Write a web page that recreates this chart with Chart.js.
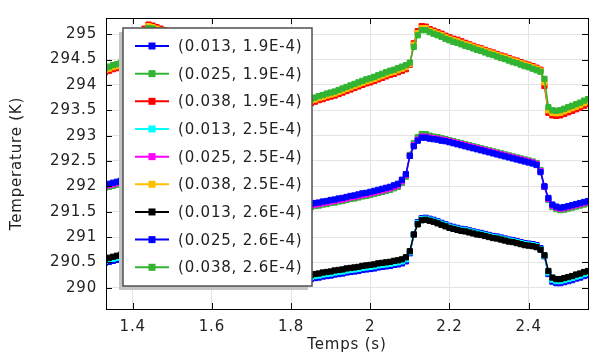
<!DOCTYPE html>
<html>
<head>
<meta charset="utf-8">
<script src="https://cdn.jsdelivr.net/npm/chart.js@4.4.0/dist/chart.umd.min.js"></script>
<style>
  html, body { margin: 0; padding: 0; background: #fff; }
  canvas { display: block; }
</style>
</head>
<body>
<canvas id="tempChart" width="593" height="356"></canvas>
<script>
// time axis (s), one sample every 0.01 s
const times = [
  1.33, 1.34, 1.35, 1.36, 1.37, 1.38, 1.39, 1.40, 1.41, 1.42,
  1.43, 1.44, 1.45, 1.46, 1.47, 1.48, 1.49, 1.50, 1.51, 1.52,
  1.53, 1.54, 1.55, 1.56, 1.57, 1.58, 1.59, 1.60, 1.61, 1.62,
  1.63, 1.64, 1.65, 1.66, 1.67, 1.68, 1.69, 1.70, 1.71, 1.72,
  1.73, 1.74, 1.75, 1.76, 1.77, 1.78, 1.79, 1.80, 1.81, 1.82,
  1.83, 1.84, 1.85, 1.86, 1.87, 1.88, 1.89, 1.90, 1.91, 1.92,
  1.93, 1.94, 1.95, 1.96, 1.97, 1.98, 1.99, 2.00, 2.01, 2.02,
  2.03, 2.04, 2.05, 2.06, 2.07, 2.08, 2.09, 2.10, 2.11, 2.12,
  2.13, 2.14, 2.15, 2.16, 2.17, 2.18, 2.19, 2.20, 2.21, 2.22,
  2.23, 2.24, 2.25, 2.26, 2.27, 2.28, 2.29, 2.30, 2.31, 2.32,
  2.33, 2.34, 2.35, 2.36, 2.37, 2.38, 2.39, 2.40, 2.41, 2.42,
  2.43, 2.44, 2.45, 2.46, 2.47, 2.48, 2.49, 2.50, 2.51, 2.52,
  2.53, 2.54, 2.55
];

// (0.013, 1.9E-4)
const t013_19 = [
  290.49, 290.51, 290.53, 290.55, 290.57, 290.59, 290.61, 290.63, 290.76, 291.08, 291.30, 291.38, 291.39,
  291.37, 291.35, 291.33, 291.31, 291.29, 291.27, 291.25, 291.23, 291.21, 291.19, 291.17, 291.15, 291.13, 291.11,
  291.09, 291.07, 291.05, 291.03, 291.02, 291.00, 290.98, 290.96, 290.94, 290.93, 290.91, 290.89, 290.87, 290.83,
  290.67, 290.29, 290.13, 290.10, 290.10,
  290.11, 290.12, 290.13, 290.14, 290.15, 290.16, 290.17, 290.19, 290.20, 290.22, 290.23, 290.24, 290.26, 290.27,
  290.28, 290.30, 290.31, 290.32, 290.33, 290.35, 290.36, 290.37, 290.38, 290.40, 290.41, 290.42, 290.43, 290.45,
  290.46, 290.48, 290.52,
  290.68, 291.05, 291.29, 291.37, 291.38,
  291.36, 291.34, 291.31, 291.28, 291.25, 291.22, 291.20, 291.18, 291.16, 291.15, 291.13, 291.11, 291.09, 291.08,
  291.06, 291.04, 291.02, 291.01, 290.99, 290.97, 290.95, 290.94, 290.92, 290.90, 290.88, 290.87, 290.86, 290.84, 290.78,
  290.62, 290.27, 290.12, 290.09, 290.09,
  290.11, 290.13, 290.15, 290.18, 290.20, 290.23, 290.25
];
// (0.025, 1.9E-4)
const t025_19 = [
  291.97, 291.99, 292.01, 292.03, 292.05, 292.07, 292.11, 292.19, 292.62, 292.84, 292.97, 293.04, 293.03,
  293.00, 292.98, 292.96, 292.94, 292.92, 292.90, 292.88, 292.86, 292.84, 292.82, 292.80, 292.78, 292.76, 292.74,
  292.72, 292.70, 292.68, 292.66, 292.64, 292.62, 292.60, 292.58, 292.56, 292.54, 292.52, 292.50, 292.48, 292.45,
  292.24, 291.98, 291.74, 291.59, 291.55,
  291.54, 291.54, 291.55, 291.56, 291.57, 291.58, 291.59, 291.61, 291.62, 291.64, 291.65, 291.67, 291.68, 291.70,
  291.71, 291.73, 291.75, 291.76, 291.78, 291.80, 291.81, 291.83, 291.85, 291.87, 291.89, 291.91, 291.93, 291.96,
  291.99, 292.07, 292.19,
  292.62, 292.85, 292.97, 293.03, 293.03,
  293.00, 292.98, 292.97, 292.95, 292.93, 292.91, 292.89, 292.87, 292.85, 292.83, 292.81, 292.79, 292.77, 292.75,
  292.73, 292.71, 292.69, 292.67, 292.65, 292.63, 292.61, 292.59, 292.57, 292.55, 292.53, 292.51, 292.49, 292.46, 292.32,
  291.99, 291.73, 291.59, 291.55, 291.53,
  291.54, 291.56, 291.58, 291.60, 291.62, 291.64, 291.66
];
// (0.038, 1.9E-4)
const t038_19 = [
  294.25, 294.28, 294.31, 294.33, 294.36, 294.38, 294.40, 294.42, 294.45, 294.86, 295.11, 295.19, 295.17,
  295.14, 295.11, 295.08, 295.05, 295.02, 295.00, 294.97, 294.94, 294.91, 294.88, 294.86, 294.83, 294.80, 294.77,
  294.74, 294.72, 294.69, 294.66, 294.63, 294.61, 294.58, 294.55, 294.52, 294.50, 294.47, 294.44, 294.41, 294.38,
  294.00, 293.48, 293.40, 293.38, 293.39,
  293.43, 293.46, 293.49, 293.52, 293.56, 293.60, 293.64, 293.67, 293.70, 293.72, 293.75, 293.77, 293.79, 293.82,
  293.85, 293.88, 293.91, 293.94, 293.97, 294.00, 294.03, 294.05, 294.08, 294.11, 294.14, 294.17, 294.20, 294.22,
  294.25, 294.28, 294.31,
  294.40, 294.82, 295.06, 295.16, 295.15,
  295.10, 295.07, 295.04, 295.01, 294.97, 294.94, 294.91, 294.89, 294.86, 294.83, 294.80, 294.77, 294.74, 294.72,
  294.69, 294.66, 294.64, 294.61, 294.58, 294.56, 294.53, 294.50, 294.48, 294.45, 294.42, 294.40, 294.37, 294.34, 294.30,
  293.98, 293.45, 293.40, 293.39, 293.40,
  293.43, 293.46, 293.49, 293.52, 293.55, 293.59, 293.62
];
// (0.013, 2.5E-4)
const t013_25 = [
  290.53, 290.55, 290.57, 290.59, 290.61, 290.63, 290.65, 290.67, 290.78, 291.08, 291.28, 291.36, 291.37,
  291.35, 291.33, 291.31, 291.29, 291.27, 291.25, 291.23, 291.21, 291.19, 291.17, 291.15, 291.13, 291.11, 291.09,
  291.07, 291.05, 291.03, 291.01, 291.00, 290.98, 290.96, 290.94, 290.92, 290.91, 290.89, 290.87, 290.85, 290.81,
  290.68, 290.32, 290.17, 290.14, 290.14,
  290.15, 290.16, 290.17, 290.18, 290.19, 290.20, 290.21, 290.23, 290.24, 290.26, 290.27, 290.28, 290.30, 290.31,
  290.32, 290.34, 290.35, 290.36, 290.37, 290.39, 290.40, 290.41, 290.42, 290.44, 290.45, 290.46, 290.47, 290.49,
  290.50, 290.52, 290.56,
  290.70, 291.05, 291.27, 291.35, 291.36,
  291.34, 291.32, 291.29, 291.26, 291.23, 291.20, 291.18, 291.16, 291.14, 291.13, 291.11, 291.09, 291.07, 291.06,
  291.04, 291.02, 291.00, 290.99, 290.97, 290.95, 290.93, 290.92, 290.90, 290.88, 290.86, 290.85, 290.84, 290.82, 290.76,
  290.63, 290.30, 290.16, 290.13, 290.13,
  290.15, 290.17, 290.19, 290.22, 290.24, 290.27, 290.29
];
// (0.025, 2.5E-4)
const t025_25 = [
  292.00, 292.02, 292.04, 292.06, 292.08, 292.10, 292.14, 292.22, 292.60, 292.80, 292.93, 292.99, 292.98,
  292.96, 292.94, 292.93, 292.91, 292.89, 292.87, 292.85, 292.83, 292.81, 292.79, 292.77, 292.75, 292.73, 292.71,
  292.69, 292.67, 292.65, 292.63, 292.61, 292.59, 292.57, 292.55, 292.53, 292.51, 292.49, 292.47, 292.45, 292.43,
  292.22, 291.98, 291.76, 291.62, 291.58,
  291.57, 291.57, 291.58, 291.59, 291.60, 291.61, 291.62, 291.64, 291.65, 291.67, 291.68, 291.70, 291.71, 291.73,
  291.74, 291.76, 291.78, 291.79, 291.81, 291.83, 291.84, 291.86, 291.88, 291.90, 291.92, 291.94, 291.96, 291.99,
  292.02, 292.10, 292.22,
  292.60, 292.81, 292.92, 292.98, 292.98,
  292.96, 292.95, 292.94, 292.92, 292.91, 292.89, 292.87, 292.85, 292.83, 292.81, 292.79, 292.77, 292.75, 292.73,
  292.71, 292.69, 292.67, 292.65, 292.63, 292.61, 292.59, 292.57, 292.55, 292.53, 292.51, 292.49, 292.47, 292.44, 292.30,
  291.99, 291.75, 291.62, 291.58, 291.56,
  291.57, 291.59, 291.61, 291.63, 291.65, 291.67, 291.69
];
// (0.038, 2.5E-4)
const t038_25 = [
  294.29, 294.32, 294.35, 294.37, 294.40, 294.42, 294.44, 294.46, 294.49, 294.83, 295.08, 295.16, 295.14,
  295.11, 295.08, 295.05, 295.02, 294.99, 294.97, 294.94, 294.91, 294.88, 294.85, 294.83, 294.80, 294.77, 294.74,
  294.71, 294.69, 294.66, 294.63, 294.60, 294.58, 294.55, 294.52, 294.49, 294.47, 294.44, 294.41, 294.39, 294.36,
  294.08, 293.54, 293.46, 293.44, 293.45,
  293.48, 293.51, 293.54, 293.57, 293.61, 293.65, 293.69, 293.71, 293.74, 293.76, 293.79, 293.81, 293.83, 293.86,
  293.89, 293.92, 293.95, 293.98, 294.01, 294.04, 294.07, 294.09, 294.12, 294.15, 294.18, 294.21, 294.24, 294.26,
  294.29, 294.32, 294.35,
  294.42, 294.79, 295.02, 295.12, 295.12,
  295.07, 295.04, 295.01, 294.98, 294.94, 294.91, 294.88, 294.86, 294.83, 294.80, 294.78, 294.75, 294.72, 294.70,
  294.67, 294.64, 294.62, 294.59, 294.56, 294.54, 294.51, 294.48, 294.46, 294.43, 294.40, 294.38, 294.35, 294.32, 294.28,
  294.05, 293.50, 293.45, 293.44, 293.45,
  293.48, 293.51, 293.54, 293.57, 293.60, 293.64, 293.67
];
// (0.013, 2.6E-4)
const t013_26 = [
  290.57, 290.59, 290.61, 290.63, 290.65, 290.67, 290.69, 290.71, 290.80, 291.08, 291.26, 291.34, 291.35,
  291.33, 291.31, 291.29, 291.27, 291.25, 291.23, 291.21, 291.19, 291.17, 291.15, 291.13, 291.11, 291.09, 291.07,
  291.05, 291.03, 291.01, 290.99, 290.98, 290.96, 290.94, 290.92, 290.90, 290.89, 290.87, 290.85, 290.83, 290.79,
  290.68, 290.35, 290.21, 290.18, 290.18,
  290.19, 290.20, 290.21, 290.22, 290.23, 290.24, 290.25, 290.27, 290.28, 290.30, 290.31, 290.32, 290.34, 290.35,
  290.36, 290.38, 290.39, 290.40, 290.41, 290.43, 290.44, 290.45, 290.46, 290.48, 290.49, 290.50, 290.51, 290.53,
  290.54, 290.56, 290.60,
  290.72, 291.05, 291.25, 291.33, 291.34,
  291.32, 291.30, 291.27, 291.24, 291.21, 291.18, 291.16, 291.14, 291.12, 291.11, 291.09, 291.07, 291.05, 291.04,
  291.02, 291.00, 290.98, 290.97, 290.95, 290.93, 290.91, 290.90, 290.88, 290.86, 290.84, 290.83, 290.82, 290.80, 290.75,
  290.64, 290.33, 290.20, 290.17, 290.17,
  290.19, 290.21, 290.23, 290.26, 290.28, 290.31, 290.33
];
// (0.025, 2.6E-4)
const t025_26 = [
  292.03, 292.05, 292.07, 292.09, 292.11, 292.13, 292.17, 292.24, 292.60, 292.79, 292.91, 292.97, 292.96,
  292.94, 292.92, 292.91, 292.89, 292.87, 292.85, 292.83, 292.81, 292.79, 292.77, 292.75, 292.73, 292.71, 292.69,
  292.67, 292.65, 292.63, 292.61, 292.59, 292.57, 292.55, 292.53, 292.51, 292.49, 292.47, 292.45, 292.43, 292.41,
  292.22, 292.00, 291.78, 291.64, 291.60,
  291.59, 291.59, 291.60, 291.61, 291.62, 291.64, 291.65, 291.67, 291.68, 291.70, 291.71, 291.73, 291.74, 291.76,
  291.77, 291.79, 291.81, 291.82, 291.84, 291.86, 291.87, 291.89, 291.91, 291.93, 291.95, 291.97, 291.99, 292.02,
  292.05, 292.13, 292.24,
  292.60, 292.79, 292.90, 292.96, 292.96,
  292.94, 292.93, 292.92, 292.90, 292.89, 292.87, 292.85, 292.83, 292.81, 292.79, 292.77, 292.75, 292.73, 292.71,
  292.69, 292.67, 292.65, 292.63, 292.61, 292.59, 292.57, 292.55, 292.53, 292.51, 292.49, 292.47, 292.45, 292.42, 292.28,
  292.00, 291.77, 291.64, 291.60, 291.58,
  291.59, 291.61, 291.63, 291.65, 291.67, 291.69, 291.71
];
// (0.038, 2.6E-4)
const t038_26 = [
  294.33, 294.36, 294.39, 294.41, 294.44, 294.46, 294.48, 294.50, 294.52, 294.80, 295.04, 295.12, 295.11,
  295.08, 295.05, 295.02, 294.99, 294.96, 294.94, 294.91, 294.88, 294.85, 294.82, 294.80, 294.77, 294.74, 294.71,
  294.68, 294.66, 294.63, 294.60, 294.57, 294.55, 294.52, 294.49, 294.46, 294.44, 294.41, 294.38, 294.36, 294.33,
  294.16, 293.60, 293.51, 293.49, 293.50,
  293.53, 293.56, 293.59, 293.62, 293.65, 293.69, 293.73, 293.75, 293.78, 293.80, 293.83, 293.85, 293.87, 293.90,
  293.93, 293.96, 293.99, 294.02, 294.05, 294.08, 294.11, 294.13, 294.16, 294.19, 294.22, 294.25, 294.28, 294.30,
  294.33, 294.36, 294.39,
  294.44, 294.75, 294.98, 295.08, 295.08,
  295.04, 295.01, 294.98, 294.95, 294.91, 294.88, 294.85, 294.83, 294.80, 294.77, 294.75, 294.72, 294.69, 294.67,
  294.64, 294.61, 294.59, 294.56, 294.53, 294.51, 294.48, 294.45, 294.43, 294.40, 294.37, 294.35, 294.32, 294.29, 294.26,
  294.12, 293.56, 293.50, 293.49, 293.50,
  293.53, 293.56, 293.59, 293.62, 293.65, 293.69, 293.72
];

const seriesLabels = [
  '(0.013, 1.9E-4)', '(0.025, 1.9E-4)', '(0.038, 1.9E-4)',
  '(0.013, 2.5E-4)', '(0.025, 2.5E-4)', '(0.038, 2.5E-4)',
  '(0.013, 2.6E-4)', '(0.025, 2.6E-4)', '(0.038, 2.6E-4)'
];
const seriesValues = [t013_19, t025_19, t038_19, t013_25, t025_25, t038_25, t013_26, t025_26, t038_26];
const seriesColors = ['#0000ff', '#32b432', '#ff0000', '#00ffff', '#ff00ff', '#ffbf00', '#000000', '#0000ff', '#32b432'];

const xTicks = [1.4, 1.6, 1.8, 2.0, 2.2, 2.4];
const yTicks = [290, 290.5, 291, 291.5, 292, 292.5, 293, 293.5, 294, 294.5, 295];

const FONT = 'DejaVu Sans';
const SPACING = '0.8px';

// canvas resets its state on resize, so put the letter spacing back each pass
const spacingPlugin = {
  id: 'spacing',
  beforeUpdate(chart) { chart.ctx.letterSpacing = SPACING; },
  beforeDraw(chart) { chart.ctx.letterSpacing = SPACING; }
};

// box frame, inward ticks on all four sides, and the legend drawn over the data
const framePlugin = {
  id: 'frameAndLegend',
  afterDatasetsDraw(chart) {
    const ctx = chart.ctx;
    const a = chart.chartArea;
    const xs = chart.scales.x, ys = chart.scales.y;
    ctx.save();
    ctx.strokeStyle = '#000';
    ctx.lineWidth = 1;
    ctx.strokeRect(a.left + 0.5, a.top + 0.5, a.right - a.left, a.bottom - a.top);
    ctx.beginPath();
    xTicks.forEach(v => {
      const px = Math.round(xs.getPixelForValue(v)) + 0.5;
      ctx.moveTo(px, a.bottom); ctx.lineTo(px, a.bottom - 6);
      ctx.moveTo(px, a.top); ctx.lineTo(px, a.top + 6);
    });
    yTicks.forEach(v => {
      const py = Math.round(ys.getPixelForValue(v)) + 0.5;
      ctx.moveTo(a.left, py); ctx.lineTo(a.left + 6, py);
      ctx.moveTo(a.right, py); ctx.lineTo(a.right - 6, py);
    });
    ctx.stroke();

    // legend
    const lx = 123, ly = 28, lw = 189, lh = 258;
    ctx.fillStyle = '#c4c4c4';
    ctx.fillRect(lx - 4, ly + 4, lw, lh);
    ctx.fillStyle = '#fff';
    ctx.fillRect(lx, ly, lw, lh);
    ctx.strokeStyle = '#505050';
    ctx.lineWidth = 1.5;
    ctx.strokeRect(lx, ly, lw, lh);
    ctx.font = '15px "' + FONT + '"';
    ctx.textBaseline = 'middle';
    ctx.textAlign = 'left';
    chart.data.datasets.forEach((ds, i) => {
      const cy = ly + 18 + i * 27.66;
      ctx.strokeStyle = ds.borderColor;
      ctx.lineWidth = 2;
      ctx.beginPath();
      ctx.moveTo(lx + 12, cy); ctx.lineTo(lx + 46, cy);
      ctx.stroke();
      ctx.fillStyle = ds.borderColor;
      ctx.fillRect(lx + 25.5, cy - 3.5, 7, 7);
      ctx.fillStyle = '#222';
      ctx.fillText(ds.label, lx + 55, cy + 1);
    });
    ctx.restore();
  }
};

new Chart(document.getElementById('tempChart'), {
  type: 'line',
  data: {
    datasets: seriesLabels.map((label, i) => ({
      label: label,
      data: seriesValues[i].map((v, k) => ({ x: times[k], y: v })),
      borderColor: seriesColors[i],
      backgroundColor: seriesColors[i],
      borderWidth: 1.5,
      pointStyle: 'rect',
      pointRadius: 3.7,
      pointBorderWidth: 1,
      tension: 0,
      order: seriesLabels.length - 1 - i   // last series on top
    }))
  },
  options: {
    responsive: false,
    animation: false,
    layout: { padding: { top: 10, right: 1, left: 0, bottom: 0 } },
    plugins: { legend: { display: false }, tooltip: { enabled: false } },
    scales: {
      x: {
        type: 'linear',
        min: 1.3325,
        max: 2.55,
        afterBuildTicks: s => { s.ticks = xTicks.map(v => ({ value: v })); },
        afterFit: s => { s.height = 47; },
        grid: { color: '#e4e4e4', drawTicks: false },
        border: { display: false },
        ticks: {
          padding: 9,
          color: '#222',
          font: { family: FONT, size: 15 },
          callback: v => String(+v.toFixed(2))
        },
        title: {
          display: true,
          text: 'Temps (s)',
          color: '#222',
          font: { family: FONT, size: 15 },
          padding: { top: 0, bottom: 2 }
        }
      },
      y: {
        min: 289.58,
        max: 295.32,
        afterBuildTicks: s => { s.ticks = yTicks.map(v => ({ value: v })); },
        afterFit: s => { s.width = 106; },
        grid: { color: '#e4e4e4', drawTicks: false },
        border: { display: false },
        ticks: {
          padding: 9,
          color: '#222',
          font: { family: FONT, size: 15 },
          callback: v => String(+v.toFixed(2))
        },
        title: {
          display: true,
          text: 'Temperature (K)',
          color: '#222',
          font: { family: FONT, size: 15 },
          padding: { top: 8, bottom: 0 }
        }
      }
    }
  },
  plugins: [spacingPlugin, framePlugin]
});
</script>
</body>
</html>
